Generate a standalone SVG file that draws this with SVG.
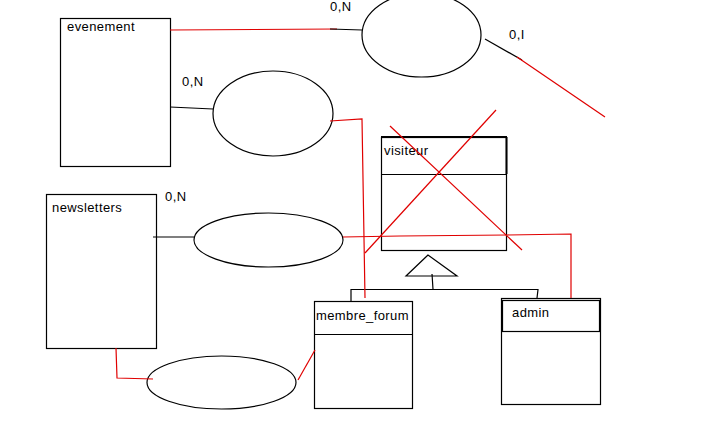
<svg xmlns="http://www.w3.org/2000/svg" width="709" height="425" viewBox="0 0 709 425">
<style>
.box{fill:#fff;stroke:#000;stroke-width:1.2}
.ell{fill:#fff;stroke:#000;stroke-width:1.2}
.blk{fill:none;stroke:#000;stroke-width:1.2}
.red{fill:none;stroke:#e00000;stroke-width:1.2}
text{font-family:"Liberation Sans",Arial,sans-serif;font-size:13px;fill:#000;letter-spacing:0.4px}
</style>
<rect width="709" height="425" fill="#fff"/>
<g id="evenement"><rect class="box" x="60.5" y="18.5" width="110" height="148"/><text x="67" y="31">evenement</text></g>
<g id="assoc_top"><ellipse class="ell" cx="421.5" cy="35" rx="59.5" ry="42"/></g>
<g id="assoc_evenement"><ellipse class="ell" cx="273" cy="113.5" rx="60" ry="42.5"/></g>
<g id="newsletters"><rect class="box" x="46.5" y="194.5" width="110" height="154"/><text x="52" y="212">newsletters</text></g>
<g id="assoc_newsletters"><ellipse class="ell" cx="268.5" cy="240" rx="74.5" ry="27"/></g>
<g id="assoc_bottom"><ellipse class="ell" cx="221.5" cy="382.5" rx="74.5" ry="26.5"/></g>
<g id="visiteur">
<rect class="box" x="381.5" y="137.5" width="125" height="113"/>
<line x1="381" y1="137" x2="507" y2="137" stroke="#000" stroke-width="2"/>
<line x1="506.5" y1="137" x2="506.5" y2="174" stroke="#000" stroke-width="2"/>
<line class="blk" x1="381.5" y1="174.5" x2="506.5" y2="174.5"/>
<text x="384" y="155">visiteur</text>
</g>
<g id="membre_forum"><rect class="box" x="314.5" y="301.5" width="98" height="107"/><line class="blk" x1="314.5" y1="334.5" x2="412" y2="334.5"/><text x="316" y="320">membre_forum</text></g>
<g id="admin">
<rect class="box" x="501.5" y="298.5" width="99" height="106"/>
<rect class="box" x="502.5" y="300.5" width="97" height="31" stroke-width="1.6"/>
<text x="512" y="317">admin</text>
</g>
<g id="heritage">
<polygon class="ell" points="428,255 406,276 457,276"/>
<polyline class="blk" points="432,274 433,289"/>
<polyline class="blk" points="351,301 351,289.5 538,289.5 537,298"/>
</g>
<g id="connectors">
<polyline class="red" points="170,30 337,29"/>
<polyline class="blk" points="330,29 362,30"/>
<text x="330" y="11">0,N</text>
<polyline class="blk" points="485,39 522,60"/>
<polyline class="red" points="517,57 605,117"/>
<text x="509" y="39">0,I</text>
<polyline class="blk" points="170,107 213,109"/>
<text x="182" y="86">0,N</text>
<polyline class="red" points="330,121 362,119 365,298"/>
<polyline class="blk" points="153,237 194,237"/>
<text x="165" y="201">0,N</text>
<polyline class="red" points="343,237 400,236 507,235 571,234 571,298"/>
<polyline class="red" points="116,348 117,378 153,379"/>
<polyline class="red" points="298,380 315,350"/>
<line class="red" x1="390" y1="126" x2="522" y2="250"/>
<line class="red" x1="496" y1="110" x2="365" y2="253"/>
</g>
</svg>
